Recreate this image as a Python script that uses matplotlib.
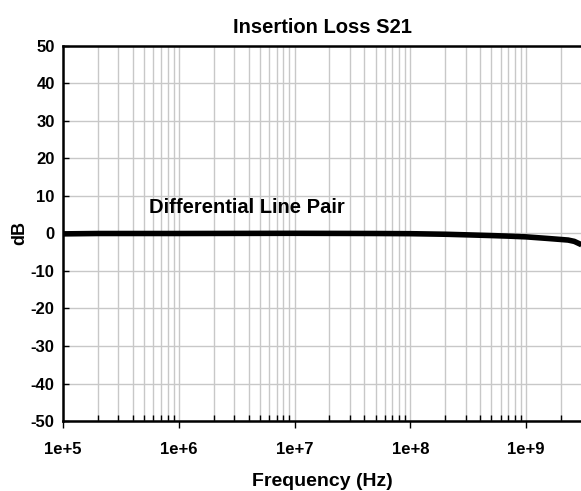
import numpy as np
import matplotlib
matplotlib.use("Agg")
import matplotlib.pyplot as plt
from matplotlib.ticker import LogLocator, FixedLocator, NullFormatter

plt.rcParams['font.family'] = ['Liberation Sans', 'DejaVu Sans']
plt.rcParams['font.weight'] = 'bold'
plt.rcParams['axes.unicode_minus'] = False

# S21
freq = [1e5, 2e5, 1e6, 1e7, 5e7, 1e8, 2e8, 3e8, 5e8, 7e8, 1e9, 1.5e9, 2e9, 2.3e9, 2.6e9, 3e9]
s21 = [-0.1, 0.0, 0.0, 0.05, 0.0, -0.05, -0.2, -0.35, -0.55, -0.7, -0.9, -1.3, -1.6, -1.75, -2.1, -3.0]

xticks = [1e5, 1e6, 1e7, 1e8, 1e9]
xlabels = ["1e+5", "1e+6", "1e+7", "1e+8", "1e+9"]
yticks = np.arange(-50, 51, 10)

fig = plt.figure(figsize=(5.81, 4.91), dpi=100)
ax = fig.add_axes([63/581, 1-421/491, 518.5/581, 375/491])

ax.semilogx(freq, s21, color='black', lw=4, solid_capstyle='butt', zorder=3)
ax.set_xlim(1e5, 3e9)
ax.set_ylim(-50, 50)

ax.xaxis.set_major_locator(FixedLocator(xticks))
ax.set_xticklabels(xlabels)
ax.xaxis.set_minor_locator(LogLocator(base=10, subs=np.arange(2, 10)))
ax.xaxis.set_minor_formatter(NullFormatter())
ax.set_yticks(yticks)

ax.grid(True, which='both', axis='x', color='#c8c8c8', lw=1)
ax.grid(True, which='major', axis='y', color='#c8c8c8', lw=1)
ax.set_axisbelow(True)

ax.tick_params(axis='x', which='major', direction='out', length=5, width=1, labelsize=12, pad=10)
ax.tick_params(axis='x', which='minor', direction='in', length=4, width=1)
ax.tick_params(axis='y', which='major', direction='in', length=4, width=1, labelsize=12, pad=6)

for s in ['left', 'bottom', 'top']:
    ax.spines[s].set_linewidth(1.8)
ax.spines['right'].set_visible(False)

ax.set_title("Insertion Loss S21", fontsize=14.5, fontweight='bold', pad=9)
ax.set_xlabel("Frequency (Hz)", fontsize=14, fontweight='bold', labelpad=12)
ax.set_ylabel("dB", fontsize=13, fontweight='bold', labelpad=2)

ax.text(5.5e5, 7.0, "Differential Line Pair", fontsize=14.5, fontweight='bold', va='center', ha='left')

fig.savefig("out.png", dpi=100)
